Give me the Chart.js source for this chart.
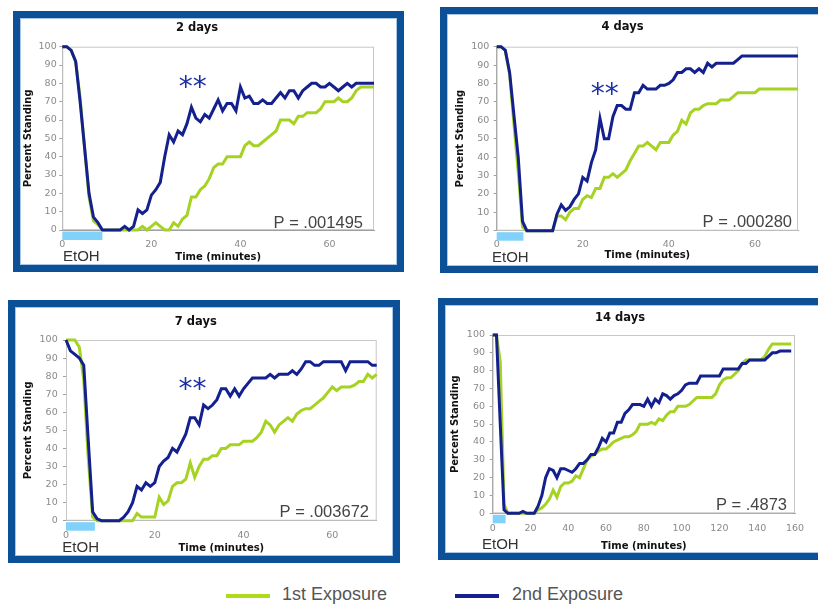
<!DOCTYPE html>
<html>
<head>
<meta charset="utf-8">
<title>Percent standing after EtOH exposure</title>
<script src="https://cdn.jsdelivr.net/npm/chart.js@4.4.0/dist/chart.umd.min.js"></script>
<style>
  body { margin: 0; width: 818px; height: 605px; overflow: hidden; background: #fff; position: relative; }
  .panel { position: absolute; box-sizing: border-box; border: 7px solid #0c5097; background: #fff; box-shadow: inset 0 0 0 1px #a9c6e6; }
  .panel canvas { position: absolute; left: 0; top: 0; }
  .swatch { position: absolute; height: 4px; width: 44px; top: 594px; }
  .label { position: absolute; top: 584px; font: 18px "Liberation Sans", Arial, sans-serif; color: #555; }
</style>
</head>
<body>

<div class="panel" style="left:13px; top:11px; width:391px; height:261px;"><canvas id="chart2d" width="377" height="247"></canvas></div>
<div class="panel" style="left:440px; top:7px; width:392px; height:266px;"><canvas id="chart4d" width="378" height="252"></canvas></div>
<div class="panel" style="left:8px; top:300px; width:392px; height:263px;"><canvas id="chart7d" width="378" height="249"></canvas></div>
<div class="panel" style="left:438px; top:298px; width:392px; height:262px;"><canvas id="chart14d" width="378" height="248"></canvas></div>

<span class="swatch" style="left:226px; background:#aedc1c;"></span>
<span class="label" style="left:282px;">1st Exposure</span>
<span class="swatch" style="left:455px; background:#13208e;"></span>
<span class="label" style="left:512px;">2nd Exposure</span>

<script>
// Time axis (minutes)
const minutes70 = [0, 1, 2, 3, 4, 5, 6, 7, 8, 9, 10, 11, 12, 13, 14, 15, 16, 17, 18, 19,
  20, 21, 22, 23, 24, 25, 26, 27, 28, 29, 30, 31, 32, 33, 34, 35, 36, 37, 38, 39,
  40, 41, 42, 43, 44, 45, 46, 47, 48, 49, 50, 51, 52, 53, 54, 55, 56, 57, 58, 59,
  60, 61, 62, 63, 64, 65, 66, 67, 68, 69, 70];
const minutes160 = [0, 2, 4, 6, 8, 10, 12, 14, 16, 18, 20, 22, 24, 26, 28, 30, 32, 34, 36, 38,
  40, 42, 44, 46, 48, 50, 52, 54, 56, 58, 60, 62, 64, 66, 68, 70, 72, 74, 76, 78,
  80, 82, 84, 86, 88, 90, 92, 94, 96, 98, 100, 102, 104, 106, 108, 110, 112, 114, 116, 118,
  120, 122, 124, 126, 128, 130, 132, 134, 136, 138, 140, 142, 144, 146, 148, 150, 152, 154, 156, 158];

// 2 days
const first2d = [100, 100, 98, 92, 72, 45, 18, 5, 3, 0, 0, 0, 0, 0, 0, 0, 0, 0, 2, 0,
  2, 4, 2, 0, 0, 4, 2, 6, 8, 18, 18, 22, 24, 28, 34, 36, 36, 40, 40, 40,
  40, 46, 48, 46, 46, 48, 50, 52, 54, 60, 60, 60, 58, 62, 62, 64, 64, 64, 66, 70,
  70, 70, 72, 70, 70, 72, 76, 78, 78, 78, 78];
const second2d = [100, 100, 98, 92, 70, 45, 20, 7, 4, 0, 0, 0, 0, 0, 2, 0, 2, 11, 9, 11,
  19, 22, 26, 40, 52, 48, 54, 52, 58, 67, 61, 59, 63, 61, 66, 71, 65, 69, 69, 65,
  78, 72, 73, 69, 69, 71, 69, 69, 72, 75, 72, 76, 76, 72, 76, 78, 80, 80, 78, 78,
  80, 78, 76, 78, 80, 78, 80, 80, 80, 80, 80];

// 4 days
const first4d = [100, 100, 98, 85, 58, 32, 2, 0, 0, 0, 0, 0, 0, 0, 8, 8, 6, 10, 12, 12,
  17, 19, 18, 23, 23, 29, 29, 31, 29, 31, 33, 38, 42, 46, 46, 48, 46, 44, 48, 48,
  48, 52, 54, 60, 58, 64, 66, 66, 68, 69, 69, 69, 71, 71, 71, 73, 75, 75, 75, 75,
  75, 77, 77, 77, 77, 77, 77, 77, 77, 77, 77];
const second4d = [100, 100, 98, 86, 63, 40, 5, 0, 0, 0, 0, 0, 0, 0, 9, 14, 11, 13, 17, 20,
  29, 27, 37, 44, 61, 50, 50, 62, 68, 68, 66, 66, 75, 75, 79, 77, 77, 77, 79, 79,
  80, 82, 86, 86, 88, 88, 86, 88, 86, 91, 89, 91, 91, 91, 91, 91, 93, 95, 95, 95,
  95, 95, 95, 95, 95, 95, 95, 95, 95, 95, 95];

// 7 days
const first7d = [100, 100, 100, 96, 78, 35, 2, 0, 0, 0, 0, 0, 0, 0, 0, 0, 4, 2, 2, 2,
  2, 13, 9, 11, 19, 21, 21, 23, 32, 24, 30, 34, 34, 36, 36, 40, 40, 42, 42, 42,
  44, 44, 44, 46, 49, 55, 53, 49, 53, 55, 57, 55, 59, 61, 62, 62, 64, 66, 68, 71,
  74, 72, 74, 74, 74, 75, 77, 77, 81, 79, 81];
const second7d = [100, 94, 92, 90, 86, 45, 5, 1, 0, 0, 0, 0, 0, 2, 5, 10, 19, 17, 21, 19,
  21, 30, 33, 35, 40, 38, 43, 48, 57, 57, 53, 64, 62, 64, 67, 73, 73, 69, 73, 69,
  73, 76, 79, 79, 79, 79, 81, 79, 81, 81, 81, 83, 81, 84, 88, 88, 86, 86, 88, 88,
  88, 88, 88, 83, 88, 88, 88, 88, 88, 86, 86];

// 14 days
const first14d = [100, 100, 85, 5, 0, 0, 0, 0, 0, 0, 0, 0, 2, 3, 5, 8, 13, 9, 15, 17,
  17, 18, 21, 20, 25, 30, 32, 33, 35, 36, 36, 38, 40, 41, 42, 43, 43, 44, 46, 50,
  50, 50, 51, 50, 53, 52, 55, 57, 57, 60, 60, 60, 61, 63, 65, 65, 65, 65, 65, 67,
  72, 75, 76, 76, 78, 80, 84, 86, 86, 86, 86, 86, 88, 92, 95, 95, 95, 95, 95, 95];
const second14d = [100, 100, 50, 2, 0, 0, 0, 0, 1, 0, 0, 0, 4, 10, 20, 25, 24, 20, 25, 25,
  24, 23, 25, 28, 28, 30, 33, 33, 37, 42, 40, 45, 45, 51, 51, 56, 58, 61, 61, 61,
  60, 64, 60, 64, 62, 67, 66, 64, 66, 67, 69, 72, 73, 73, 73, 77, 77, 77, 77, 77,
  77, 81, 81, 81, 81, 81, 84, 84, 86, 86, 86, 86, 86, 88, 90, 90, 91, 91, 91, 91];

const seriesNames = ['1st Exposure', '2nd Exposure'];
const greenColor = '#a6d323';
const blueColor = '#13208e';

Chart.defaults.font.family = '"DejaVu Sans", Verdana, sans-serif';

// Plot frame, EtOH bar and the text notes on each panel
const panelDecor = {
  id: 'panelDecor',
  beforeDatasetsDraw(chart, args, o) {
    const { ctx, chartArea: a } = chart;
    ctx.save();
    ctx.strokeStyle = '#c8c8c8';
    ctx.lineWidth = 1;
    ctx.strokeRect(a.left + 0.5, a.top + 0.5, a.right - a.left - 1, a.bottom - a.top - 1);
    ctx.restore();
  },
  afterDraw(chart, args, o) {
    const { ctx, chartArea: a, scales: { x, y } } = chart;
    ctx.save();
    // EtOH exposure bar under the axis
    const x0 = x.getPixelForValue(0);
    const x1 = x.getPixelForValue(o.etohEnd);
    ctx.fillStyle = '#80d2fa';
    ctx.fillRect(x0, a.bottom + 1.5, x1 - x0, 8.5);
    ctx.fillStyle = '#333';
    ctx.font = '15px "Liberation Sans", Arial, sans-serif';
    ctx.textAlign = 'left';
    ctx.textBaseline = 'alphabetic';
    ctx.fillText('EtOH', a.left + o.etohDx, a.bottom + o.etohDy);
    // P value
    ctx.fillStyle = '#444';
    ctx.font = '16.5px "Liberation Sans", Arial, sans-serif';
    ctx.textAlign = 'right';
    ctx.fillText(o.pText, a.right - o.pDx, a.bottom - o.pDy);
    // significance marks (glyph sits high in the em box, so nudge down)
    if (o.stars) {
      ctx.fillStyle = '#1d2fa6';
      ctx.font = '28px "DejaVu Sans", sans-serif';
      ctx.textAlign = 'center';
      ctx.textBaseline = 'middle';
      ctx.fillText('**', x.getPixelForValue(o.stars[0]), y.getPixelForValue(o.stars[1]) + 7);
    }
    ctx.restore();
  }
};

function buildPanel(canvasId, title, times, first, second, xMax, xStep, g) {
  const ctx = document.getElementById(canvasId).getContext('2d');
  const tickFont = { size: 9.5 };
  const axisFont = { size: 10, weight: 'bold' };

  return new Chart(ctx, {
    type: 'line',
    data: {
      datasets: [
        {
          label: seriesNames[0],
          data: times.map((t, i) => ({ x: t, y: first[i] })),
          borderColor: greenColor,
          borderWidth: 3,
          pointRadius: 0,
          tension: 0,
          clip: 4,
          order: 1
        },
        {
          label: seriesNames[1],
          data: times.map((t, i) => ({ x: t, y: second[i] })),
          borderColor: blueColor,
          borderWidth: 3,
          pointRadius: 0,
          tension: 0,
          clip: 4,
          order: 0
        }
      ]
    },
    options: {
      responsive: false,
      animation: false,
      events: [],
      layout: { padding: { left: 0, top: 0, right: g.padRight, bottom: 0 } },
      plugins: {
        legend: { display: false },
        tooltip: { enabled: false },
        title: {
          display: true,
          text: title,
          color: '#111',
          font: { size: 11.5, weight: 'bold' },
          padding: { top: g.titleTop, bottom: g.titleBottom }
        },
        panelDecor: g.decor
      },
      scales: {
        x: {
          type: 'linear',
          min: 0,
          max: xMax,
          afterFit: s => { s.height = g.xHeight; },
          grid: { display: false, drawTicks: false },
          border: { color: '#a0a0a0' },
          ticks: { stepSize: xStep, includeBounds: false, padding: g.xTickPad, color: '#8a8a8a', font: tickFont, maxRotation: 0 },
          title: { display: true, text: 'Time (minutes)', color: '#111', font: axisFont, padding: { top: 0, bottom: g.xTitlePad } }
        },
        y: {
          min: 0,
          max: 100,
          afterFit: s => { s.width = g.yWidth; },
          grid: { drawOnChartArea: false, drawTicks: true, tickLength: 3, color: '#a0a0a0' },
          border: { color: '#a0a0a0' },
          ticks: { stepSize: 10, padding: g.yTickPad, color: '#8a8a8a', font: tickFont },
          title: { display: true, text: 'Percent Standing', color: '#111', font: axisFont, padding: { top: g.yTitlePad, bottom: 0 } }
        }
      }
    },
    plugins: [panelDecor]
  });
}

buildPanel('chart2d', '2 days', minutes70, first2d, second2d, 70, 20, {
  padRight: 23, titleTop: 3.4, titleBottom: 11.5, xHeight: 35, yWidth: 42.3,
  xTickPad: 9.3, yTickPad: 2.6, xTitlePad: 2, yTitlePad: 2,
  decor: { etohEnd: 9, etohDx: 0.7, etohDy: 30.7, pText: 'P = .001495', pDx: 11, pDy: 2, stars: [29.3, 80.7] }
});

buildPanel('chart4d', '4 days', minutes70, first4d, second4d, 70, 20, {
  padRight: 27, titleTop: 5.8, titleBottom: 13.1, xHeight: 35.3, yWidth: 49.7,
  xTickPad: 7.9, yTickPad: 4.4, xTitlePad: 4.3, yTitlePad: 7.7,
  decor: { etohEnd: 6.2, etohDx: -4.7, etohDy: 31, pText: 'P = .000280', pDx: 6, pDy: 4, stars: [25.1, 77.3] }
});

buildPanel('chart7d', '7 days', minutes70, first7d, second7d, 70, 20, {
  padRight: 16.3, titleTop: 7.8, titleBottom: 11.4, xHeight: 35.3, yWidth: 51,
  xTickPad: 9.6, yTickPad: 5.3, xTitlePad: 1.7, yTitlePad: 7.3,
  decor: { etohEnd: 6.5, etohDx: -3.7, etohDy: 31.6, pText: 'P = .003672', pDx: 7.7, pDy: 3.4, stars: [28.5, 75.6] }
});

buildPanel('chart14d', '14 days', minutes160, first14d, second14d, 160, 20, {
  padRight: 28, titleTop: 6.4, titleBottom: 9.8, xHeight: 39.7, yWidth: 47.7,
  xTickPad: 9.3, yTickPad: 4.7, xTitlePad: 1, yTitlePad: 4,
  decor: { etohEnd: 6.8, etohDx: -10.7, etohDy: 35.7, pText: 'P = .4873', pDx: 8, pDy: 3.3, stars: null }
});
</script>
</body>
</html>
